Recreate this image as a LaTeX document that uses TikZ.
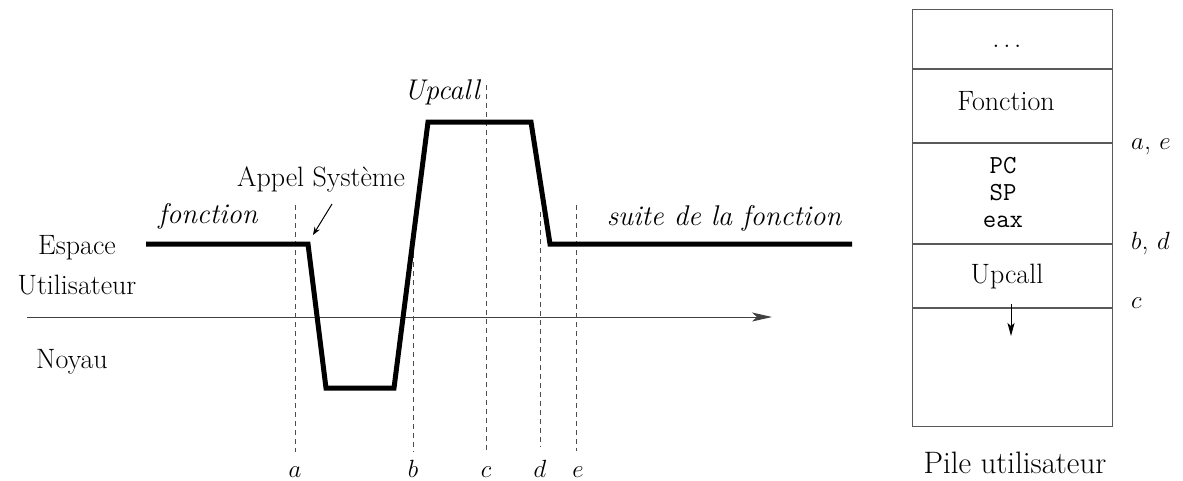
\documentclass[tikz,border=0pt]{standalone}
\usetikzlibrary{arrows.meta}
\begin{document}
\begin{tikzpicture}[x=1pt,y=-1pt,
  txt/.style={font=\fontsize{28}{32}\selectfont, inner sep=0pt, anchor=base},
  itxt/.style={txt, font=\fontsize{28.5}{32}\selectfont\itshape},
  mtxt/.style={txt, font=\fontsize{28}{32}\selectfont},
  ttxt/.style={txt, font=\fontsize{26}{28}\selectfont\ttfamily},
  thick path/.style={line width=5pt, line join=miter},
  guide/.style={draw=black!70, line width=0.9pt, dash pattern=on 5pt off 4pt},
  axis/.style={draw=black!75, line width=1pt, -{Stealth[length=20pt,width=9pt,inset=5pt]}},
  cell/.style={draw=black!65, line width=1pt, minimum width=200pt, inner sep=0pt, anchor=north}]
\useasboundingbox (0,0) rectangle (1183,480);

% ---- left labels
\node[txt] (esp) at (77,254) {Espace};
\node[txt] (uti) at (77,294) {Utilisateur};
\node[txt] (noy) at (72,368) {Noyau};
\node[itxt] (fct) at (208,223) {fonction};
\node[txt] (app) at (321,186) {Appel Système};
\node[itxt] (upc) at (442,99) {Upcall};
\node[itxt] (suite) at (724,225) {suite de la fonction};

% ---- axis
\coordinate (ax0) at (27,317);
\coordinate (ax1) at (772,317);
\draw[axis] (ax0) -- (ax1);

% ---- guides
\coordinate (ga0) at (295,205); \coordinate (ga1) at (295,452);
\coordinate (gb0) at (413,253); \coordinate (gb1) at (413,452);
\coordinate (gc0) at (486,85);  \coordinate (gc1) at (486,453);
\coordinate (gd0) at (540,212); \coordinate (gd1) at (540,447);
\coordinate (ge0) at (576,205); \coordinate (ge1) at (576,451);
\draw[guide] (ga0) -- (ga1);
\draw[guide] (gb0) -- (gb1);
\draw[guide] (gc0) -- (gc1);
\draw[guide] (gd0) -- (gd1);
\draw[guide] (ge0) -- (ge1);
\node[mtxt] (la) at (295,477) {$a$};
\node[mtxt] (lb) at (413,477) {$b$};
\node[mtxt] (lc) at (486,477) {$c$};
\node[mtxt] (ld) at (540,477) {$d$};
\node[mtxt] (le) at (578,477) {$e$};

% ---- execution path
\coordinate (p0) at (146,244);
\coordinate (p1) at (308,244);
\coordinate (p2) at (326,388);
\coordinate (p3) at (394,388);
\coordinate (p4) at (428,122);
\coordinate (p5) at (531,122);
\coordinate (p6) at (550,244);
\coordinate (p7) at (852,244);
\draw[thick path] (p0) -- (p1) -- (p2) -- (p3) -- (p4) -- (p5) -- (p6) -- (p7);

% ---- Appel Systeme pointer
\coordinate (sa0) at (332,204);
\coordinate (sa1) at (313,235);
\draw[line width=1pt, -{Stealth[length=8pt,width=6pt]}] (sa0) -- (sa1);

% ---- stack
\node[cell, minimum height=59pt] (c1) at (1012,9) {};
\node[cell, minimum height=73pt] (c2) at (c1.south) {};
\node[cell, minimum height=100pt] (c3) at (c2.south) {};
\node[cell, minimum height=63pt] (c4) at (c3.south) {};
\node[cell, minimum height=118pt] (c5) at (c4.south) {};
\node[txt] (dots) at (1007,47) {$\dots$};
\node[txt] (sfct) at (1006,110) {Fonction};
\node[ttxt] (pc) at (1003,173) {PC};
\node[ttxt] (sp) at (1003,200) {SP};
\node[ttxt] (eax) at (1003,227) {eax};
\node[txt] (supc) at (1007,283) {Upcall};
\coordinate (sg0) at (1011,304);
\coordinate (sg1) at (1011,336);
\draw[line width=1pt, -{Stealth[length=13pt,width=7pt,inset=3pt]}] (sg0) -- (sg1);
\node[mtxt, anchor=base west] (lae) at (1131,149) {$a$, $e$};
\node[mtxt, anchor=base west] (lbd) at (1131,249) {$b$, $d$};
\node[mtxt, anchor=base west] (lcc) at (1131,308) {$c$};
\node[txt, font=\fontsize{31}{35}\selectfont] (pile) at (1015,473) {Pile utilisateur};
\end{tikzpicture}
\end{document}
